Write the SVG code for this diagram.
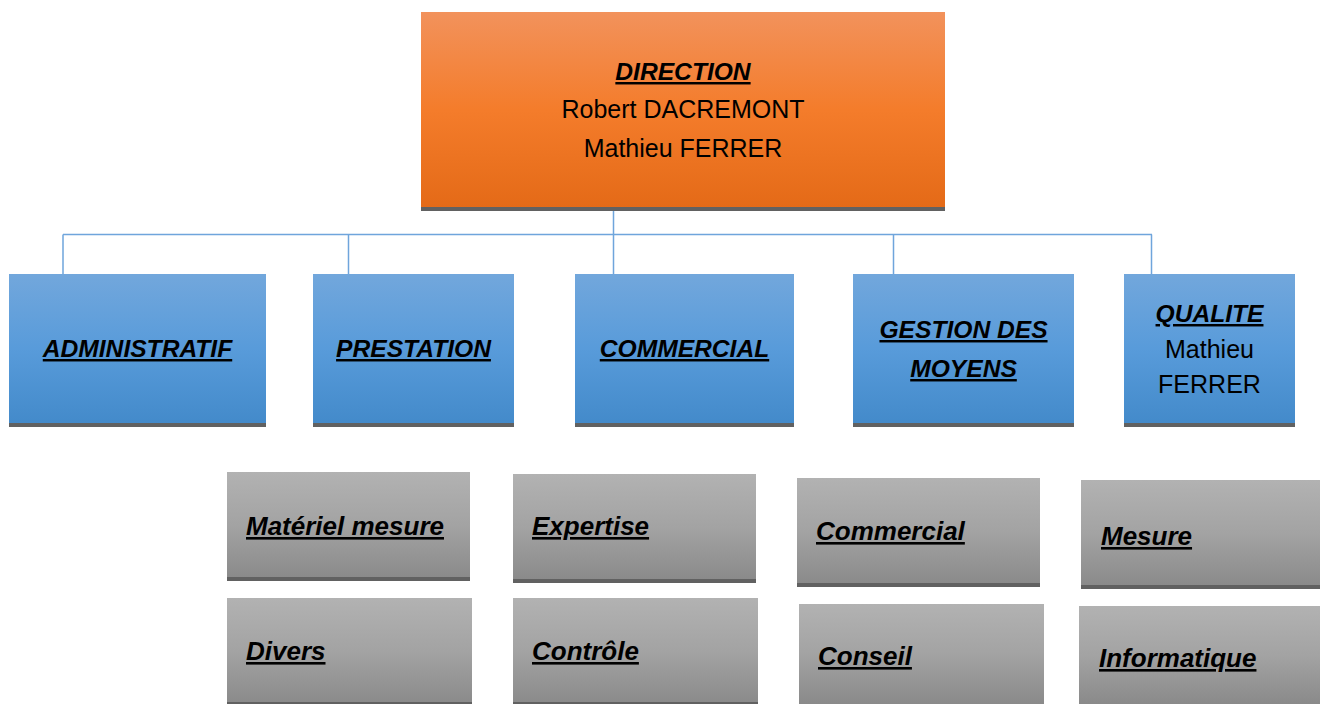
<svg xmlns="http://www.w3.org/2000/svg" width="1320" height="704" viewBox="0 0 1320 704">
<defs>
<linearGradient id="gOrange" x1="0" y1="0" x2="0" y2="1">
<stop offset="0" stop-color="#F2925C"/>
<stop offset="0.5" stop-color="#F47C2B"/>
<stop offset="1" stop-color="#E46A17"/>
</linearGradient>
<linearGradient id="gBlue" x1="0" y1="0" x2="0" y2="1">
<stop offset="0" stop-color="#72A7DC"/>
<stop offset="0.5" stop-color="#589BDA"/>
<stop offset="1" stop-color="#438ACA"/>
</linearGradient>
<linearGradient id="gGrey" x1="0" y1="0" x2="0" y2="1">
<stop offset="0" stop-color="#B2B2B2"/>
<stop offset="0.5" stop-color="#A3A3A3"/>
<stop offset="1" stop-color="#8A8A8A"/>
</linearGradient>
</defs>
<style>
.t{font-family:"Liberation Sans",Arial,sans-serif;fill:#000;}
.h{font-weight:bold;font-style:italic;text-decoration:underline;font-size:24.6px;}
.n{font-size:25px;}
.s{font-weight:bold;font-style:italic;text-decoration:underline;font-size:26px;}
.sh{fill:#616161;}
.conn{stroke:#6FA5DC;stroke-width:1.5;fill:none;}
</style>
<rect width="1320" height="704" fill="#FFFFFF"/>
<g id="connectors">
<path class="conn" d="M613.5 211 V274 M63 234.5 H1152 M63 234.5 V274 M348.5 234.5 V274 M893.5 234.5 V274 M1151.5 234.5 V274"/>
</g>
<g id="direction">
<rect x="421" y="12" width="524" height="196" fill="url(#gOrange)"/>
<rect class="sh" x="421" y="207" width="524" height="4"/>
<text class="t h" x="683" y="80" text-anchor="middle">DIRECTION</text>
<text class="t n" x="683" y="118" text-anchor="middle">Robert DACREMONT</text>
<text class="t n" x="683" y="157" text-anchor="middle">Mathieu FERRER</text>
</g>
<g id="administratif">
<rect x="9" y="274" width="257" height="150" fill="url(#gBlue)"/>
<rect class="sh" x="9" y="423" width="257" height="4"/>
<text class="t h" x="137.5" y="357" text-anchor="middle">ADMINISTRATIF</text>
</g>
<g id="prestation">
<rect x="313" y="274" width="201" height="150" fill="url(#gBlue)"/>
<rect class="sh" x="313" y="423" width="201" height="4"/>
<text class="t h" x="413.5" y="357" text-anchor="middle">PRESTATION</text>
</g>
<g id="commercial">
<rect x="575" y="274" width="219" height="150" fill="url(#gBlue)"/>
<rect class="sh" x="575" y="423" width="219" height="4"/>
<text class="t h" x="684.5" y="357" text-anchor="middle">COMMERCIAL</text>
</g>
<g id="gestion">
<rect x="853" y="274" width="221" height="150" fill="url(#gBlue)"/>
<rect class="sh" x="853" y="423" width="221" height="4"/>
<text class="t h" x="963.5" y="338" text-anchor="middle">GESTION DES</text>
<text class="t h" x="963.5" y="377" text-anchor="middle">MOYENS</text>
</g>
<g id="qualite">
<rect x="1124" y="274" width="171" height="150" fill="url(#gBlue)"/>
<rect class="sh" x="1124" y="423" width="171" height="4"/>
<text class="t h" x="1209.5" y="322" text-anchor="middle">QUALITE</text>
<text class="t n" x="1209.5" y="358" text-anchor="middle">Mathieu</text>
<text class="t n" x="1209.5" y="393" text-anchor="middle">FERRER</text>
</g>
<g id="materiel-mesure">
<rect x="227" y="472" width="243" height="106" fill="url(#gGrey)"/>
<rect class="sh" x="227" y="577" width="243" height="4"/>
<text class="t s" x="246" y="535">Matériel mesure</text>
</g>
<g id="expertise">
<rect x="513" y="474" width="243" height="106" fill="url(#gGrey)"/>
<rect class="sh" x="513" y="579" width="243" height="4"/>
<text class="t s" x="532" y="535">Expertise</text>
</g>
<g id="divers">
<rect x="227" y="598" width="245" height="106" fill="url(#gGrey)"/>
<rect class="sh" x="227" y="702" width="245" height="2"/>
<text class="t s" x="246" y="660">Divers</text>
</g>
<g id="controle">
<rect x="513" y="598" width="245" height="106" fill="url(#gGrey)"/>
<rect class="sh" x="513" y="702" width="245" height="2"/>
<text class="t s" x="532" y="660">Contrôle</text>
</g>
<g id="commercial-sub">
<rect x="797" y="478" width="243" height="106" fill="url(#gGrey)"/>
<rect class="sh" x="797" y="583" width="243" height="4"/>
<text class="t s" x="816" y="540">Commercial</text>
</g>
<g id="mesure">
<rect x="1081" y="480" width="239" height="106" fill="url(#gGrey)"/>
<rect class="sh" x="1081" y="585" width="239" height="4"/>
<text class="t s" x="1101" y="545">Mesure</text>
</g>
<g id="conseil">
<rect x="799" y="604" width="245" height="100" fill="url(#gGrey)"/>
<text class="t s" x="818" y="665">Conseil</text>
</g>
<g id="informatique">
<rect x="1079" y="606" width="241" height="98" fill="url(#gGrey)"/>
<text class="t s" x="1099" y="667">Informatique</text>
</g>
</svg>
